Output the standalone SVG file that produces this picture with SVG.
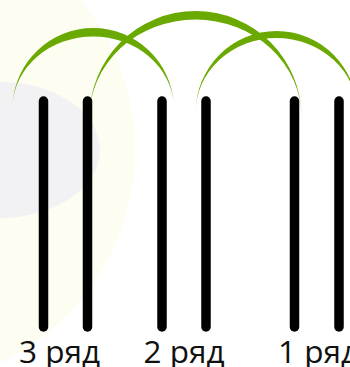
<svg xmlns="http://www.w3.org/2000/svg" width="350" height="367" viewBox="0 0 350 367">
<style>
.post{stroke:#000;stroke-width:9.5;stroke-linecap:round;fill:none}
.arc{fill:#69a900}
.lbl{font-family:"Open Sans","Noto Sans","DejaVu Sans",sans-serif;font-size:31.5px;fill:#111}
</style>
<rect width="350" height="367" fill="#ffffff"/>
<g id="background">
<circle cx="-100" cy="150" r="235" fill="#fdfdf2"/>
<ellipse cx="0" cy="150" rx="100" ry="68" fill="#f2f2f4"/>
</g>
<g id="connectors">
<path class="arc" d="M12.3,105 A81,82 0 0 1 174,105 A81,73 0 0 0 12.3,105 Z"/>
<path class="arc" d="M89.3,118 A106.2,107 0 0 1 301.7,118 A106.2,98.5 0 0 0 89.3,118 Z"/>
<path class="arc" d="M195.5,113 A81,82 0 0 1 357.5,113 A81,75 0 0 0 195.5,113 Z"/>
</g>
<g id="post1"><line class="post" x1="43.5" y1="101" x2="43.5" y2="327"/></g>
<g id="post2"><line class="post" x1="87.5" y1="101" x2="87.5" y2="327"/></g>
<g id="post3"><line class="post" x1="162" y1="101" x2="162" y2="327"/></g>
<g id="post4"><line class="post" x1="206" y1="101" x2="206" y2="327"/></g>
<g id="post5"><line class="post" x1="294.5" y1="101" x2="294.5" y2="327"/></g>
<g id="post6"><line class="post" x1="339" y1="101" x2="339" y2="327"/></g>
<g id="label3"><text class="lbl" x="19" y="362.5">3 ряд</text></g>
<g id="label2"><text class="lbl" x="143.5" y="362.5">2 ряд</text></g>
<g id="label1"><text class="lbl" x="278" y="362.5">1 ряд</text></g>
</svg>
